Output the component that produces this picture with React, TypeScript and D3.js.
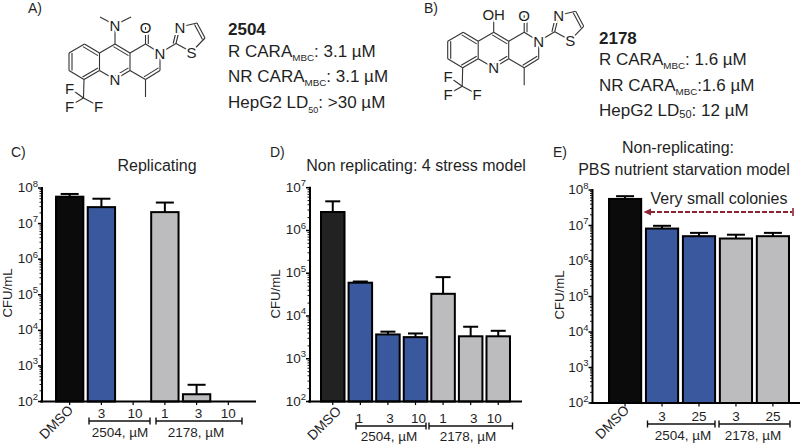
import React from "react";
import * as d3 from "d3";

const FONT = "'Liberation Sans', Arial, sans-serif";
const INK = "#1f1f1f";
const BLACK = "#0b0b0b";
const CHARCOAL = "#222222";
const BLUE = "#3a589d";
const GREY = "#bcbcbe";

// Panel C
const cCategories = ["DMSO", "3", "10", "1", "3", "10"];
const cValues = [5.7e7, 2.9e7, null, 2.1e7, 160, null];
const cUpper = [6.8e7, 5e7, null, 3.9e7, 295, null];
const cFills = [BLACK, BLUE, BLUE, GREY, GREY, GREY];
// Panel D
const dCategories = ["DMSO", "1", "3", "10", "1", "3", "10"];
const dValues = [2.7e6, 6e4, 3.7e3, 3.2e3, 3.3e4, 3.35e3, 3.35e3];
const dUpper = [4.8e6, 6.4e4, 4.3e3, 3.9e3, 8.1e4, 5.6e3, 4.5e3];
const dFills = [CHARCOAL, BLUE, BLUE, BLUE, GREY, GREY, GREY];
// Panel E
const eCategories = ["DMSO", "3", "25", "3", "25"];
const eValues = [5.6e7, 8.2e6, 5e6, 4.3e6, 5e6];
const eUpper = [6.7e7, 9.8e6, 6.2e6, 5.5e6, 6.2e6];
const eFills = [BLACK, BLUE, BLUE, GREY, GREY];

const group2504 = "2504, µM";
const group2178 = "2178, µM";

type PanelProps = {
  categories: string[]; values: (number | null)[]; upper: (number | null)[]; fills: string[];
  top: number; yTop: number; yBottom: number; axisX: number; axisEnd: number;
  barStart: number; barEnd: number; capWidth: number; nudge: number[];
  labelY: number; bracketY: number; groupY: number;
  brackets: [number, number, string, number][]; dmso: [number, number]; yLabelX: number; yLabelY: number;
};

function Panel(p: PanelProps) {
  const y = d3.scaleLog().domain([100, p.top]).range([p.yBottom, p.yTop]);
  const x = d3.scaleBand<number>().domain(p.categories.map((_, i) => i)).range([p.barStart, p.barEnd]).paddingInner(0.075).paddingOuter(0);
  const ticks = y.ticks();
  const isMajor = (t: number) => Math.abs(Math.log10(t) - Math.round(Math.log10(t))) < 1e-9;
  return (
    <g fontFamily={FONT} fill={INK}>
      {ticks.map((t, i) => (
        <line key={i} x1={p.axisX - (isMajor(t) ? 4 : 2.5)} x2={p.axisX} y1={y(t)} y2={y(t)} stroke="#000" strokeWidth={isMajor(t) ? 1.5 : 0.9} />
      ))}
      {ticks.filter(isMajor).map((t) => (
        <text key={t} x={p.axisX - 4} y={y(t) + 4} textAnchor="end" fontSize={13.5}>
          10<tspan fontSize={9.5} dy={-5.5}>{Math.round(Math.log10(t))}</tspan>
        </text>
      ))}
      <text transform={`translate(${p.yLabelX},${p.yLabelY}) rotate(-90)`} textAnchor="middle" fontSize={13.2}>CFU/mL</text>
      {p.categories.map((c, i) => {
        const v = p.values[i];
        const u = p.upper[i];
        const cx = x(i)! + x.bandwidth() / 2;
        return (
          <g key={i}>
            <line x1={cx} x2={cx} y1={p.yBottom} y2={p.yBottom + 3.5} stroke="#000" strokeWidth={1.2} />
            {v != null && u != null && (
              <g>
                <line x1={cx} x2={cx} y1={y(v)} y2={y(u)} stroke="#000" strokeWidth={2} />
                <line x1={cx - p.capWidth / 2} x2={cx + p.capWidth / 2} y1={y(u)} y2={y(u)} stroke="#000" strokeWidth={2} />
                <rect x={x(i)! + 1} y={y(v)} width={x.bandwidth() - 2} height={p.yBottom - y(v)} fill={p.fills[i]} stroke="#000" strokeWidth={2} />
              </g>
            )}
            {i > 0 && (
              <text x={cx + p.nudge[i]} y={p.labelY} textAnchor="middle" fontSize={13.5}>{c}</text>
            )}
          </g>
        );
      })}
      <line x1={p.axisX} x2={p.axisX} y1={p.yTop - 1} y2={p.yBottom + 1} stroke="#000" strokeWidth={2} />
      <line x1={p.axisX - 2} x2={p.axisEnd} y1={p.yBottom} y2={p.yBottom} stroke="#000" strokeWidth={2} />
      <text transform={`translate(${p.dmso[0]},${p.dmso[1]}) rotate(-45)`} textAnchor="end" fontSize={13.7}>DMSO</text>
      {p.brackets.map(([a, b, label, lx]) => (
        <g key={label}>
          <line x1={a} x2={b} y1={p.bracketY} y2={p.bracketY} stroke="#111" strokeWidth={1.6} />
          <line x1={a} x2={a} y1={p.bracketY - 3.5} y2={p.bracketY + 3.5} stroke="#111" strokeWidth={1.4} />
          <line x1={b} x2={b} y1={p.bracketY - 3.5} y2={p.bracketY + 3.5} stroke="#111" strokeWidth={1.4} />
          <text x={lx} y={p.groupY} textAnchor="middle" fontSize={13.5}>{label}</text>
        </g>
      ))}
    </g>
  );
}

// Structure skeleton, shared by both compounds
const skeletonAtoms: Record<string, [number, number]> = {
  a: [69, 53], b: [84.5, 44], c: [99.5, 53], d: [99.5, 70.5], e: [84, 79.5], f: [69, 70.5],
  g: [115, 44], h: [130, 53], i: [130, 70.5], n1: [115, 79.5],
  j: [145.5, 44], n2: [160, 53], k: [160, 70.5], l: [145.5, 79.5],
  o: [145.5, 27], me: [145.5, 97], t1: [176, 43.5], tn: [180, 27], t2: [197, 23], t3: [205, 38], ts: [191.5, 52],
  cf: [83.5, 98], f1: [69.5, 88], f2: [69.5, 106], f3: [98.5, 106],
};
const singleBonds = [["a", "b"], ["b", "c"], ["c", "d"], ["d", "e"], ["e", "f"], ["f", "a"], ["c", "g"], ["g", "h"], ["h", "i"], ["i", "n1"], ["n1", "d"], ["h", "j"], ["j", "n2"], ["n2", "k"], ["k", "l"], ["l", "i"], ["j", "o"], ["l", "me"], ["n2", "t1"], ["t1", "tn"], ["tn", "t2"], ["t2", "t3"], ["t3", "ts"], ["ts", "t1"], ["e", "cf"], ["cf", "f1"], ["cf", "f2"], ["cf", "f3"]];
const doubleBonds: [string, string, number, number][] = [["a", "f", 3, 0], ["b", "c", -1.5, 2.6], ["e", "d", -1.5, -2.6], ["g", "h", -1.5, 2.6], ["n1", "i", -1.5, -2.6], ["k", "l", -1.5, -2.6], ["j", "o", 2.8, 0], ["t1", "tn", -2.8, 0], ["t2", "t3", -2.5, 1.5]];
const skeletonLabels: [string, string][] = [["n1", "N"], ["n2", "N"], ["o", "O"], ["tn", "N"], ["ts", "S"], ["f1", "F"], ["f2", "F"], ["f3", "F"]];

function Structure({ dx, dy, extra, extraBonds }: { dx: number; dy: number; extra: [number, number, string][]; extraBonds: number[][] }) {
  const p = (k: string) => skeletonAtoms[k];
  return (
    <g transform={`translate(${dx},${dy})`} fontFamily={FONT} fill={INK} stroke="none">
      {singleBonds.map(([u, v]) => (
        <line key={u + v} x1={p(u)[0]} y1={p(u)[1]} x2={p(v)[0]} y2={p(v)[1]} stroke="#333" strokeWidth={1.1} />
      ))}
      {doubleBonds.map(([u, v, ox, oy]) => (
        <line key={"d" + u + v} x1={p(u)[0] + ox} y1={p(u)[1] + oy} x2={p(v)[0] + ox} y2={p(v)[1] + oy} stroke="#333" strokeWidth={1.1} />
      ))}
      {extraBonds.map((b, i) => (
        <line key={i} x1={b[0]} y1={b[1]} x2={b[2]} y2={b[3]} stroke="#333" strokeWidth={1.1} />
      ))}
      {skeletonLabels.map(([k, s], i) => (
        <text key={i} x={p(k)[0]} y={p(k)[1] + 5.5} textAnchor="middle" fontSize={15} stroke="#fff" strokeWidth={4} paintOrder="stroke">{s}</text>
      ))}
      {extra.map(([x, y, s]) => (
        <text key={s} x={x} y={y + 5.5} textAnchor="middle" fontSize={15} stroke="#fff" strokeWidth={4} paintOrder="stroke">{s}</text>
      ))}
    </g>
  );
}

type Seg = [string, number, number];
function Line({ x, y, segs, bold }: { x: number; y: number; segs: Seg[]; bold?: boolean }) {
  return (
    <text x={x} y={y} fontFamily={FONT} fill={INK} fontWeight={bold ? 700 : 400} fontSize={17}>
      {segs.map(([s, size, dy], i) => (
        <tspan key={i} fontSize={size} dy={dy}>{s}</tspan>
      ))}
    </text>
  );
}

const redDash = "#8c2433";

export default function App() {
  return (
    <svg width={800} height={445} viewBox="0 0 800 445" style={{ position: "absolute", left: 0, top: 0, display: "block", background: "#fff" }}>
      <g fontFamily={FONT} fontSize={14} fill={INK}>
        <text x={28} y={12.5}>A)</text>
        <text x={424} y={13}>B)</text>
        <text x={11} y={157}>C)</text>
        <text x={270} y={157}>D)</text>
        <text x={553} y={157}>E)</text>
      </g>
      <Structure dx={0} dy={0} extra={[[115, 25, "N"]]} extraBonds={[[115, 44, 115, 25], [115, 25, 100, 17], [115, 25, 131, 17]]} />
      <Structure dx={378.7} dy={-11.7} extra={[[115, 26.5, "OH"]]} extraBonds={[[115, 44, 115, 27]]} />

      <Line x={228} y={35} bold segs={[["2504", 17, 0]]} />
      <Line x={228} y={57} segs={[["R CARA", 17, 0], ["MBC", 9.8, 4], [": 3.1 µM", 17, -4]]} />
      <Line x={228} y={82} segs={[["NR CARA", 17, 0], ["MBC", 9.8, 4], [": 3.1 µM", 17, -4]]} />
      <Line x={228} y={108} segs={[["HepG2 LD", 17, 0], ["50", 9, 5], [": >30 µM", 17, -5]]} />

      <Line x={599} y={44} bold segs={[["2178", 17, 0]]} />
      <Line x={599} y={65} segs={[["R CARA", 17, 0], ["MBC", 9.8, 4], [": 1.6 µM", 17, -4]]} />
      <Line x={599} y={91} segs={[["NR CARA", 17, 0], ["MBC", 9.8, 4], [":1.6 µM", 17, -4]]} />
      <Line x={599} y={116} segs={[["HepG2 LD", 17, 0], ["50", 11, 2], [": 12 µM", 17, -2]]} />

      <g fontFamily={FONT} fill={INK} fontSize={16} textAnchor="middle">
        <text x={157} y={171}>Replicating</text>
        <text x={416} y={171}>Non replicating: 4 stress model</text>
        <text x={678} y={153}>Non-replicating:</text>
        <text x={684} y={175}>PBS nutrient starvation model</text>
        <text x={719} y={204}>Very small colonies</text>
      </g>

      <Panel categories={cCategories} values={cValues} upper={cUpper} fills={cFills} top={1e8}
        yTop={188} yBottom={401.5} axisX={42} axisEnd={256} barStart={55} barEnd={243} capWidth={18}
        nudge={[0, 0, 2, 0, 2, 0]} labelY={418} bracketY={421} groupY={437}
        brackets={[[89, 150, group2504, 120], [156, 242, group2178, 196]]} dmso={[74, 411]} yLabelX={11.5} yLabelY={293} />
      <Panel categories={dCategories} values={dValues} upper={dUpper} fills={dFills} top={1e7}
        yTop={187.7} yBottom={401.5} axisX={310} axisEnd={522} barStart={320} barEnd={511} capWidth={15}
        nudge={[0, -1, 2, 3, 0, 3, -4]} labelY={423} bracketY={426} groupY={441}
        brackets={[[356, 426, group2504, 389], [429, 512.5, group2178, 468]]} dmso={[342, 412]} yLabelX={280} yLabelY={294} />
      <Panel categories={eCategories} values={eValues} upper={eUpper} fills={eFills} top={1e8}
        yTop={190} yBottom={403} axisX={592.5} axisEnd={800} barStart={608} barEnd={790} capWidth={18}
        nudge={[0, 0, 0, 0, 0]} labelY={421} bracketY={424} groupY={439.5}
        brackets={[[647.5, 715, group2504, 683], [719, 790, group2178, 753]]} dmso={[630, 411]} yLabelX={564} yLabelY={295} />

      <line x1={650} x2={792} y1={212} y2={212} stroke={redDash} strokeWidth={2} strokeDasharray="5 2" />
      <path d="M643.5,212 L651,208.5 L651,215.5 Z" fill={redDash} />
      <line x1={793} x2={793} y1={208} y2={216} stroke={redDash} strokeWidth={1.6} />
    </svg>
  );
}
